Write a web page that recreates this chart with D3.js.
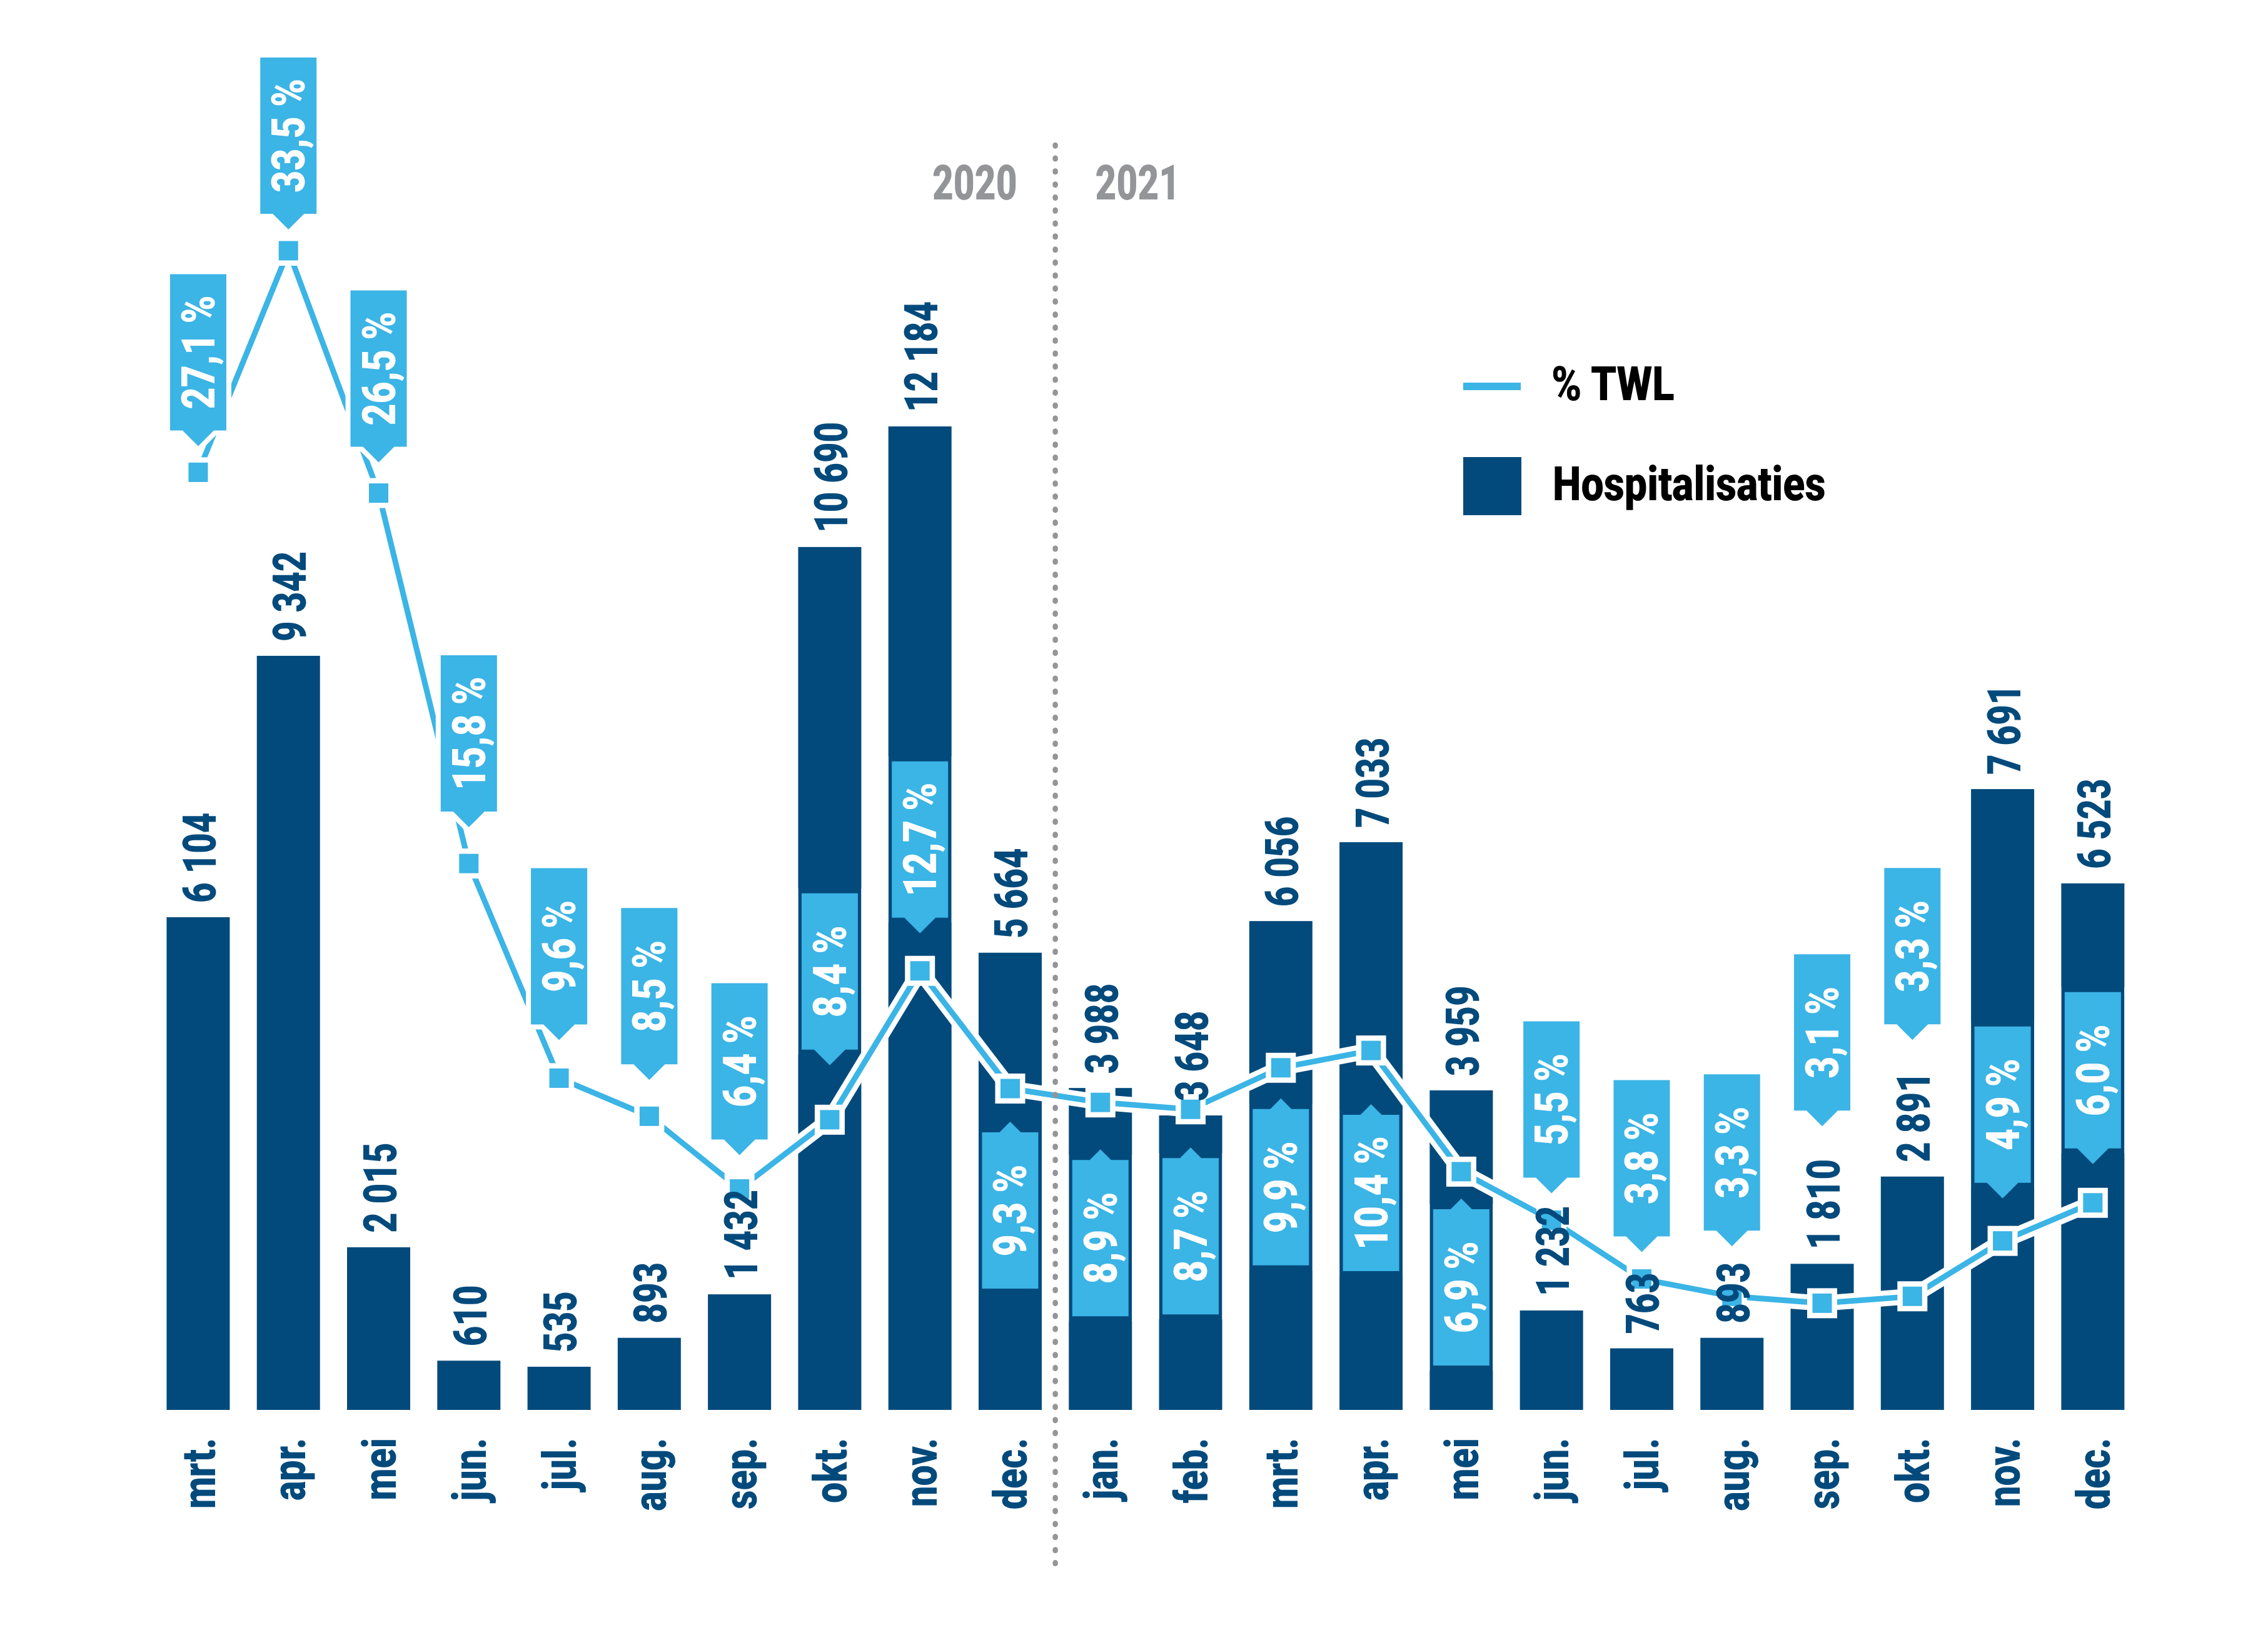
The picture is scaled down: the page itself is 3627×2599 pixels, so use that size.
<!DOCTYPE html>
<html><head><meta charset="utf-8">
<script src="https://cdn.jsdelivr.net/npm/d3@7"></script>
<style>
html,body{margin:0;padding:0;background:#fff}
svg{display:block}
text{font-family:Roboto,"Noto Sans",sans-serif;font-weight:900}
</style>
</head><body><div id="chart"></div>
<script>
// ---------- data ----------
const months = ["mrt.","apr.","mei","jun.","jul.","aug.","sep.","okt.","nov.","dec.",
                "jan.","feb.","mrt.","apr.","mei","jun.","jul.","aug.","sep.","okt.","nov.","dec."];
const yearLabels = ["2020","2021"];
const hospitalisaties = [6104,9342,2015,610,535,893,1432,10690,12184,5664,
                         3988,3648,6056,7033,3959,1232,763,893,1810,2891,7691,6523];
const twlPercent = [27.1,33.5,26.5,15.8,9.6,8.5,6.4,8.4,12.7,9.3,
                    8.9,8.7,9.9,10.4,6.9,5.5,3.8,3.3,3.1,3.3,4.9,6.0];
const seriesNames = ["% TWL","Hospitalisaties"];

// ---------- layout (callout placement) ----------
const calloutSide = ["up","up","up","up","up","up","up","up","up","down",
                     "down","down","down","down","down","up","up","up","up","up","up","up"];
const calloutGap = [42,34,49,58,61,58,54,87,60,53,75,61,49,86,43,43,43,80,283,410,68,62];

// ---------- setup ----------
const W = 3627, H = 2599;
const NAVY = "#034a7c", BLUE = "#3bb4e6", GRAY = "#939598";
const baseY = 2255;
const idx = d3.range(months.length);

const x = d3.scaleBand().domain(idx).range([244.8, 3419]).paddingInner(0.3).paddingOuter(0.15);
const yBar = d3.scaleLinear().domain([0, d3.max(hospitalisaties)]).range([baseY, 682]);
const yLine = d3.scaleLinear().domain([0, d3.max(twlPercent)]).range([2256, 401]);
const cx = i => x(i) + x.bandwidth() / 2;

const loc = d3.formatLocale({decimal: ",", thousands: " ", grouping: [3], currency: ["", " €"]});
const fmtInt = loc.format(",d");
const fmt1 = loc.format(".1f");
const fmtPct = v => fmt1(v) + " %";

const svg = d3.select("#chart").append("svg").attr("width", W).attr("height", H);
svg.append("rect").attr("width", W).attr("height", H).attr("fill", "#fff");

const defs = svg.append("defs");
const mask = defs.append("mask").attr("id", "outsideBars")
  .attr("maskUnits", "userSpaceOnUse").attr("x", 0).attr("y", 0).attr("width", W).attr("height", H);
mask.append("rect").attr("width", W).attr("height", H).attr("fill", "white");
mask.selectAll("rect.b").data(idx).join("rect").attr("class", "b")
  .attr("x", i => x(i)).attr("y", i => yBar(hospitalisaties[i]))
  .attr("width", x.bandwidth()).attr("height", i => baseY - yBar(hospitalisaties[i]))
  .attr("fill", "black");

// ---------- bars ----------
svg.append("g").selectAll("rect").data(idx).join("rect")
  .attr("x", i => x(i)).attr("y", i => yBar(hospitalisaties[i]))
  .attr("width", x.bandwidth()).attr("height", i => baseY - yBar(hospitalisaties[i]))
  .attr("fill", NAVY);

// ---------- line ----------
const lineGen = d3.line().x(i => cx(i)).y(i => yLine(twlPercent[i]));
svg.append("path").attr("d", lineGen(idx)).attr("fill", "none")
  .attr("stroke", "#fff").attr("stroke-width", 25).attr("stroke-linejoin", "miter");
svg.append("path").attr("d", lineGen(idx)).attr("fill", "none")
  .attr("stroke", BLUE).attr("stroke-width", 9).attr("stroke-linejoin", "miter");

// dotted year separator
const sepX = (x(9) + x.bandwidth() + x(10)) / 2;
svg.append("line").attr("x1", sepX).attr("x2", sepX).attr("y1", 232).attr("y2", 2505)
  .attr("stroke", GRAY).attr("stroke-width", 8.5).attr("stroke-linecap", "round")
  .attr("stroke-dasharray", "1.5 19.3");

// markers
const mk = svg.append("g").selectAll("g").data(idx).join("g")
  .attr("transform", i => `translate(${cx(i)},${yLine(twlPercent[i])})`);
mk.append("rect").attr("x", -24).attr("y", -24).attr("width", 48).attr("height", 48).attr("fill", "#fff");
mk.append("rect").attr("x", -15.5).attr("y", -15.5).attr("width", 31).attr("height", 31).attr("fill", BLUE);

// ---------- callouts ----------
const BW = 90, BH = 250;
function calloutPath(i) {
  const c = cx(i), my = yLine(twlPercent[i]);
  if (calloutSide[i] === "up") {
    const tip = my - calloutGap[i], bot = tip - 25, top = bot - BH;
    return {d: `M${c-BW/2},${top}H${c+BW/2}V${bot}H${c+25}L${c},${tip}L${c-25},${bot}H${c-BW/2}Z`, mid: (top + bot) / 2};
  } else {
    const tip = my + calloutGap[i], top = tip + 17, bot = top + BH;
    return {d: `M${c-BW/2},${top}H${c-17}L${c},${tip}L${c+17},${top}H${c+BW/2}V${bot}H${c-BW/2}Z`, mid: (top + bot) / 2};
  }
}
svg.append("g").attr("mask", "url(#outsideBars)").selectAll("path").data(idx).join("path")
  .attr("d", i => calloutPath(i).d).attr("fill", "#fff")
  .attr("stroke", "#fff").attr("stroke-width", 16).attr("stroke-linejoin", "miter");
const co = svg.append("g").selectAll("g").data(idx).join("g");
co.append("path").attr("d", i => calloutPath(i).d).attr("fill", BLUE);
co.append("text")
  .attr("transform", i => `translate(${cx(i) + 26},${calloutPath(i).mid}) rotate(-90) scale(0.82,1)`)
  .attr("text-anchor", "middle").attr("font-size", 74).attr("fill", "#fff")
  .text(i => fmtPct(twlPercent[i]));

// ---------- value labels ----------
svg.append("g").selectAll("text").data(idx).join("text")
  .attr("transform", i => `translate(${cx(i) + 28},${yBar(hospitalisaties[i]) - 23}) rotate(-90) scale(0.76,1)`)
  .attr("text-anchor", "start").attr("font-size", 74).attr("fill", NAVY)
  .text(i => fmtInt(hospitalisaties[i]));

// ---------- x axis ----------
const xAxis = d3.axisBottom(x).tickSize(0).tickFormat(i => months[i]);
const ax = svg.append("g").attr("transform", `translate(0,${baseY})`).call(xAxis);
ax.select(".domain").remove();
ax.selectAll("text")
  .attr("x", null).attr("y", null).attr("dy", null)
  .attr("transform", "translate(27,45) rotate(-90) scale(0.8,1)")
  .attr("text-anchor", "end").attr("font-size", 74).attr("fill", NAVY)
  .attr("font-family", "Roboto").attr("font-weight", 900);

// ---------- year labels ----------
svg.append("text").attr("transform", `translate(${sepX - 61},319) scale(0.76,1)`)
  .attr("text-anchor", "end").attr("font-size", 77).attr("fill", GRAY).text(yearLabels[0]);
svg.append("text").attr("transform", `translate(${sepX + 64},319) scale(0.76,1)`)
  .attr("text-anchor", "start").attr("font-size", 77).attr("fill", GRAY).text(yearLabels[1]);

// ---------- legend ----------
const lg = svg.append("g");
lg.append("line").attr("x1", 2340).attr("x2", 2432).attr("y1", 618).attr("y2", 618)
  .attr("stroke", BLUE).attr("stroke-width", 12);
lg.append("text").attr("transform", "translate(2481,640) scale(0.86,1)")
  .attr("font-size", 76).attr("fill", "#000").text(seriesNames[0]);
lg.append("rect").attr("x", 2340).attr("y", 731).attr("width", 93).attr("height", 93).attr("fill", NAVY);
lg.append("text").attr("transform", "translate(2483,800) scale(0.85,1)")
  .attr("font-size", 76).attr("fill", "#000").text(seriesNames[1]);
</script>
</body></html>
